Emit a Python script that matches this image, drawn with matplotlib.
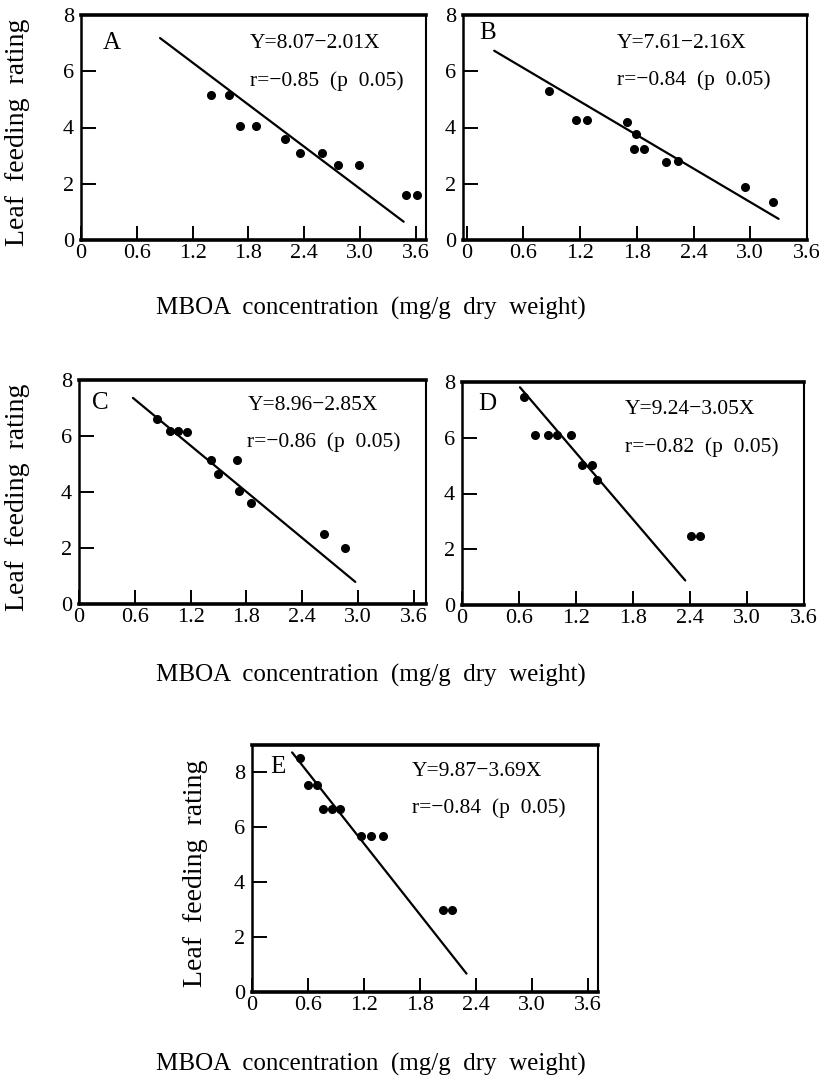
import matplotlib
matplotlib.use("Agg")
import matplotlib.pyplot as plt

W, H = 819, 1077
plt.rcParams['font.family'] = ['Liberation Serif', 'DejaVu Serif']

# ---------------- data ----------------
panels = ['A', 'B', 'C', 'D', 'E']

A_x = [1.40, 1.59, 1.71, 1.88, 2.19, 2.35, 2.59, 2.76, 2.99, 3.49, 3.61]
A_y = [5.15, 5.15, 4.05, 4.05, 3.6, 3.1, 3.1, 2.65, 2.65, 1.6, 1.6]
A_line_x = [0.85, 3.47]
A_line_y = [7.18, 0.65]

B_x = [0.87, 1.16, 1.27, 1.70, 1.79, 1.77, 1.88, 2.11, 2.24, 2.94, 3.24]
B_y = [5.31, 4.25, 4.25, 4.21, 3.77, 3.22, 3.22, 2.79, 2.82, 1.87, 1.36]
B_line_x = [0.29, 3.30]
B_line_y = [6.73, 0.75]

C_x = [0.835, 0.98, 1.06, 1.16, 1.42, 1.49, 1.70, 1.72, 1.85, 2.63, 2.86]
C_y = [6.6, 6.17, 6.17, 6.15, 5.15, 4.63, 5.14, 4.03, 3.6, 2.5, 1.99]
C_line_x = [0.58, 2.97]
C_line_y = [7.36, 0.79]

D_x = [0.65, 0.77, 0.90, 1.00, 1.15, 1.26, 1.37, 1.42, 2.41, 2.51]
D_y = [7.45, 6.1, 6.1, 6.1, 6.1, 5.04, 5.04, 4.47, 2.47, 2.47]
D_line_x = [0.61, 2.35]
D_line_y = [7.81, 0.88]

E_x = [0.51, 0.60, 0.70, 0.76, 0.86, 0.94, 1.17, 1.28, 1.41, 2.05, 2.14]
E_y = [8.52, 7.55, 7.55, 6.68, 6.68, 6.68, 5.69, 5.69, 5.69, 2.97, 2.97]
E_line_x = [0.43, 2.30]
E_line_y = [8.73, 0.67]

equations = ['Y=8.07\u22122.01X', 'Y=7.61\u22122.16X', 'Y=8.96\u22122.85X',
             'Y=9.24\u22123.05X', 'Y=9.87\u22123.69X']
r_texts = ['r=\u22120.85  (p  0.05)', 'r=\u22120.84  (p  0.05)',
           'r=\u22120.86  (p  0.05)', 'r=\u22120.82  (p  0.05)',
           'r=\u22120.84  (p  0.05)']

x_ticks = [0, 0.6, 1.2, 1.8, 2.4, 3.0, 3.6]
x_tick_labels = ['0', '0.6', '1.2', '1.8', '2.4', '3.0', '3.6']
y_ticks = [0, 2, 4, 6, 8]
y_tick_labels = ['0', '2', '4', '6', '8']

xlabel = 'MBOA  concentration  (mg/g  dry  weight)'
ylabel = 'Leaf  feeding  rating'

# ---------------- layout (pixels) ----------------
boxes = {  # left, right, top, bottom
    'A': (81, 426, 15, 240),
    'B': (463, 807, 15, 240),
    'C': (79, 426, 380, 604),
    'D': (462, 804, 382, 605),
    'E': (252, 598, 745, 992),
}
xlims = {'A': (0, 3.71), 'B': (-0.04, 3.6), 'C': (0, 3.73),
         'D': (0, 3.59), 'E': (0, 3.71)}
ylims = {'A': (0, 8), 'B': (0, 8), 'C': (0, 8), 'D': (0, 8), 'E': (0, 9)}
letter_pos = {'A': (112, 43), 'B': (488, 33), 'C': (100, 403),
              'D': (487, 404), 'E': (278, 767)}
eq_pos = {'A': (250, 43), 'B': (617, 43), 'C': (248, 405),
          'D': (625, 409), 'E': (412, 772)}
r_pos = {'A': (250, 81), 'B': (617, 80), 'C': (247, 442),
         'D': (625, 447), 'E': (412, 808)}

data = {
    'A': (A_x, A_y, A_line_x, A_line_y),
    'B': (B_x, B_y, B_line_x, B_line_y),
    'C': (C_x, C_y, C_line_x, C_line_y),
    'D': (D_x, D_y, D_line_x, D_line_y),
    'E': (E_x, E_y, E_line_x, E_line_y),
}

fig = plt.figure(figsize=(W / 100, H / 100), dpi=100)
fig.patch.set_facecolor('white')


def fx(px):
    return px / W


def fy(py):
    return 1 - py / H


for i, p in enumerate(panels):
    l, r, t, b = boxes[p]
    ax = fig.add_axes([fx(l), fy(b), (r - l) / W, (b - t) / H])
    xs, ys, lx, ly = data[p]
    ax.plot(lx, ly, color='black', lw=1.6, solid_capstyle='round', zorder=2)
    ax.plot(xs, ys, 'o', color='black', ms=5.5, zorder=3)
    ax.set_xlim(*xlims[p])
    ax.set_ylim(*ylims[p])
    ax.set_xticks(x_ticks)
    ax.set_xticklabels(x_tick_labels)
    ax.set_yticks(y_ticks)
    ax.set_yticklabels(y_tick_labels)
    ax.tick_params(axis='x', direction='in', length=10, width=1.4,
                   labelsize=16, pad=3, colors='black')
    ax.tick_params(axis='y', direction='in', length=11, width=1.4,
                   labelsize=16, pad=5, colors='black')
    for side, lw in (('top', 2.6), ('bottom', 2.6), ('left', 1.8), ('right', 1.5)):
        ax.spines[side].set_linewidth(lw)
        ax.spines[side].set_color('black')
    ax.text(fx(letter_pos[p][0]), fy(letter_pos[p][1]), p,
            transform=fig.transFigure, fontsize=18, ha='center', va='center')
    ax.text(fx(eq_pos[p][0]), fy(eq_pos[p][1]), equations[i],
            transform=fig.transFigure, fontsize=15.5, ha='left', va='center')
    ax.text(fx(r_pos[p][0]), fy(r_pos[p][1]), r_texts[i],
            transform=fig.transFigure, fontsize=15.5, ha='left', va='center')

# axis labels
for yc in (308, 675, 1064):
    fig.text(fx(371), fy(yc), xlabel, fontsize=18, ha='center', va='center')
for xc, p in ((18, 'A'), (18, 'C'), (195, 'E')):
    l, r, t, b = boxes[p]
    fig.text(fx(xc), fy((t + b) / 2 + 5), ylabel, fontsize=20, rotation=90,
             ha='center', va='center')

fig.savefig('out.png', dpi=100, facecolor='white')
